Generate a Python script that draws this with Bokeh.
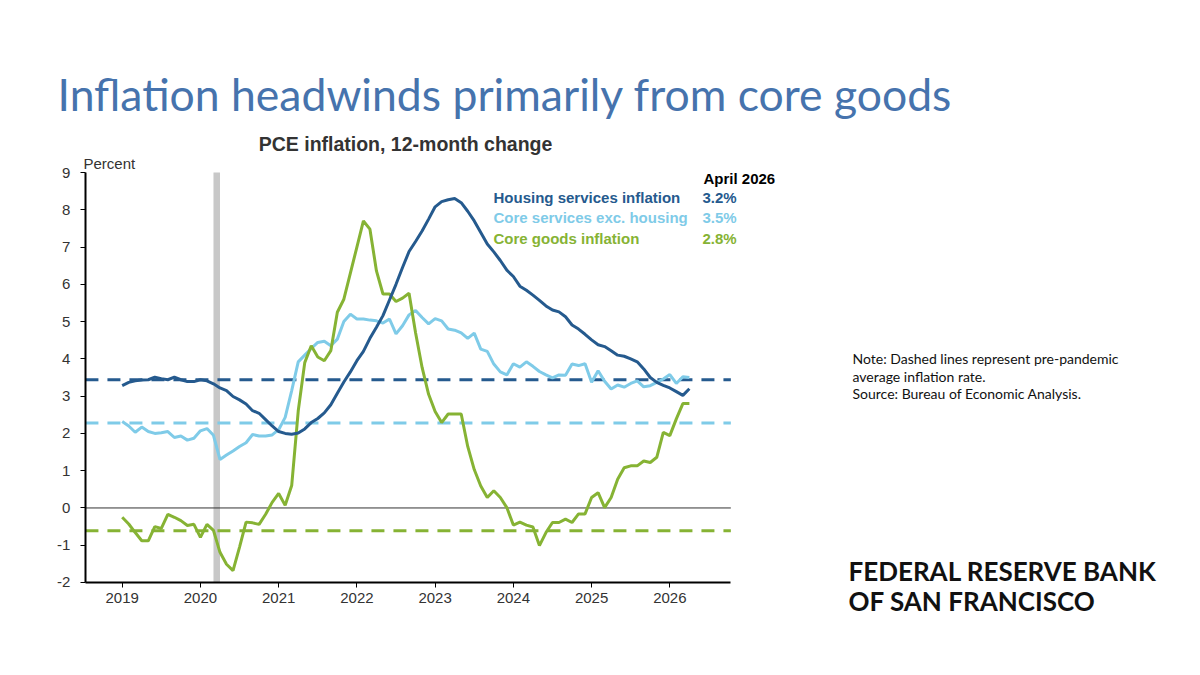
from bokeh.plotting import figure
from bokeh.models import BoxAnnotation, Label, FixedTicker, ColumnDataSource, LinearAxis
from bokeh.embed import file_html
from bokeh.resources import INLINE

# ---------------- data (12-month % change, monthly Jan 2019 - Apr 2026) ----------------
housing = [
    3.28, 3.37, 3.41, 3.43, 3.44, 3.51, 3.47, 3.44, 3.51, 3.44, 3.39, 3.39,
    3.44, 3.41, 3.33, 3.22, 3.15, 2.99, 2.90, 2.79, 2.61, 2.54, 2.37, 2.20,
    2.05, 2.00, 1.98, 2.01, 2.12, 2.29, 2.40, 2.55, 2.77, 3.08, 3.38, 3.65,
    3.95, 4.20, 4.55, 4.85, 5.16, 5.58, 6.00, 6.45, 6.88, 7.15, 7.43, 7.75,
    8.08, 8.22, 8.27, 8.30, 8.19, 7.96, 7.70, 7.39, 7.08, 6.87, 6.64, 6.38,
    6.21, 5.95, 5.84, 5.71, 5.57, 5.42, 5.31, 5.26, 5.13, 4.91, 4.80, 4.66,
    4.51, 4.38, 4.33, 4.22, 4.10, 4.07, 4.00, 3.92, 3.73, 3.50, 3.37, 3.29,
    3.22, 3.12, 3.02, 3.20,
]
core_services_ex_housing = [
    2.32, 2.20, 2.03, 2.17, 2.05, 2.00, 2.02, 2.05, 1.89, 1.93, 1.82, 1.87,
    2.07, 2.13, 1.95, 1.30, 1.42, 1.53, 1.65, 1.75, 1.97, 1.93, 1.93, 1.96,
    2.10, 2.43, 3.15, 3.92, 4.10, 4.28, 4.44, 4.47, 4.35, 4.53, 5.00, 5.20,
    5.07, 5.07, 5.04, 5.02, 4.96, 5.07, 4.67, 4.89, 5.18, 5.30, 5.11, 4.94,
    5.08, 5.02, 4.80, 4.77, 4.70, 4.55, 4.69, 4.26, 4.20, 3.86, 3.65, 3.57,
    3.87, 3.78, 3.92, 3.80, 3.66, 3.57, 3.49, 3.57, 3.56, 3.86, 3.82, 3.87,
    3.37, 3.68, 3.40, 3.19, 3.30, 3.24, 3.34, 3.41, 3.25, 3.28, 3.37, 3.46,
    3.58, 3.34, 3.52, 3.50,
]
core_goods = [
    -0.25, -0.43, -0.66, -0.88, -0.88, -0.50, -0.55, -0.17, -0.25, -0.34, -0.47, -0.44,
    -0.79, -0.44, -0.60, -1.19, -1.51, -1.68, -1.05, -0.38, -0.40, -0.44, -0.17, 0.15,
    0.39, 0.07, 0.60, 2.60, 3.90, 4.35, 4.05, 3.95, 4.22, 5.25, 5.60, 6.30,
    7.00, 7.70, 7.48, 6.36, 5.74, 5.74, 5.54, 5.63, 5.76, 4.70, 3.77, 3.05,
    2.59, 2.29, 2.52, 2.52, 2.52, 1.65, 1.03, 0.59, 0.28, 0.46, 0.28, 0.01,
    -0.46, -0.38, -0.46, -0.51, -1.01, -0.66, -0.39, -0.39, -0.30, -0.39, -0.16, -0.16,
    0.28, 0.41, 0.01, 0.28, 0.77, 1.08, 1.13, 1.13, 1.26, 1.22, 1.36, 2.03,
    1.94, 2.39, 2.80, 2.80,
]
start_year = 2019
pre_pandemic_avg = {"housing": 3.44, "services": 2.28, "goods": -0.61}
recession_start = 2020 + 2 / 12
recession_end = 2020 + 3 / 12
year_ticks = [2019, 2020, 2021, 2022, 2023, 2024, 2025, 2026]
y_ticks = [-2, -1, 0, 1, 2, 3, 4, 5, 6, 7, 8, 9]
y_tick_labels = {t: str(t) for t in y_ticks}
legend_names = ["Housing services inflation", "Core services exc. housing", "Core goods inflation"]
legend_values = ["3.2%", "3.5%", "2.8%"]
latest_label = "April 2026"
title_text = "Inflation headwinds primarily from core goods"
subtitle_text = "PCE inflation, 12-month change"
unit_text = "Percent"
note_lines = ["Note: Dashed lines represent pre-pandemic", "average inflation rate.",
              "Source: Bureau of Economic Analysis."]
logo_lines = ["FEDERAL RESERVE BANK", "OF SAN FRANCISCO"]

# ---------------- styles / layout ----------------
C_HOUS = "#255a8e"
C_SERV = "#7fcbe8"
C_GOOD = "#86b334"
C_TITLE = "#4673ad"
AXFONT = "Liberation Sans"
W, H = 1184, 659
X_AXIS = (2018.53, 2026.78)          # drawn extent of the x axis
Y_AXIS = (-2, 9)                     # drawn extent of the y axis
X_VIEW = (2017.4443, 2032.579)       # the whole page is the plotting frame
Y_VIEW = (-4.066, 13.615)

months = [start_year + i / 12 for i in range(len(housing))]
src = ColumnDataSource(dict(x=months, h=housing, s=core_services_ex_housing, g=core_goods))

p = figure(width=W, height=H, x_range=X_VIEW, y_range=Y_VIEW,
           output_backend="svg", toolbar_location=None, title=None,
           x_axis_location=None, y_axis_location=None,
           min_border_left=0, min_border_right=0, min_border_top=0, min_border_bottom=0)
p.outline_line_color = None
p.grid.visible = False
p.background_fill_color = "white"
p.border_fill_color = "white"

xax = LinearAxis(fixed_location=Y_AXIS[0], bounds=X_AXIS, ticker=FixedTicker(ticks=year_ticks))
yax = LinearAxis(fixed_location=X_AXIS[0], bounds=Y_AXIS, ticker=FixedTicker(ticks=y_ticks),
                 major_label_overrides=y_tick_labels)
for ax in (xax, yax):
    ax.minor_tick_line_color = None
    ax.major_tick_in = 0
    ax.major_tick_out = 5
    ax.axis_line_color = "black"
    ax.axis_line_width = 2
    ax.major_tick_line_color = "black"
    ax.major_label_text_font = AXFONT
    ax.major_label_text_font_size = "15px"
    ax.major_label_text_color = "#333333"
xax.major_label_standoff = 6
yax.major_label_standoff = 10
p.add_layout(xax, "below")
p.add_layout(yax, "left")

p.add_layout(BoxAnnotation(left=recession_start, right=recession_end, bottom=Y_AXIS[0], top=Y_AXIS[1],
                           fill_color="#c8c8c8", fill_alpha=1, line_color=None, level="underlay"))
p.segment(x0=[X_AXIS[0]], x1=[X_AXIS[1]], y0=[0], y1=[0], line_color="#333333", line_width=1)
for key, col in (("housing", C_HOUS), ("services", C_SERV), ("goods", C_GOOD)):
    v = pre_pandemic_avg[key]
    p.segment(x0=[X_AXIS[0]], x1=[X_AXIS[1]], y0=[v], y1=[v], line_color=col,
              line_width=3, line_dash="13 9")

p.line("x", "s", source=src, line_color=C_SERV, line_width=3)
p.line("x", "g", source=src, line_color=C_GOOD, line_width=3)
p.line("x", "h", source=src, line_color=C_HOUS, line_width=3)


def lab(px, py, text, size, color="#000000", font=AXFONT, style="normal", align="left"):
    """px, py: page position of the text's left (or centre) baseline."""
    p.add_layout(Label(x=px, y=H - py, x_units="screen", y_units="screen", text=text,
                       text_font=font, text_font_size=size, text_color=color,
                       text_font_style=style, text_align=align, text_baseline="alphabetic"))


lab(57, 93, title_text, "44.5px", C_TITLE, font="Lato")
lab(405, 143, subtitle_text, "19.5px", "#333333", style="bold", align="center")
lab(83, 163, unit_text, "15px", "#333333")

lab(703, 178, latest_label, "15px", "#000000", style="bold")
for i, (name, val, col) in enumerate(zip(legend_names, legend_values, (C_HOUS, C_SERV, C_GOOD))):
    by = 197 + i * 20.3
    lab(493, by, name, "15px", col, style="bold")
    lab(702, by, val, "15px", col, style="bold")

for i, t in enumerate(note_lines):
    lab(852, 358 + i * 17.5, t, "14px", "#111111", font="Lato")
for i, t in enumerate(logo_lines):
    lab(848, 570 + i * 30, t, "26px", "#111111", font="Lato", style="bold")

open("out.html", "w").write(file_html(p, INLINE))
